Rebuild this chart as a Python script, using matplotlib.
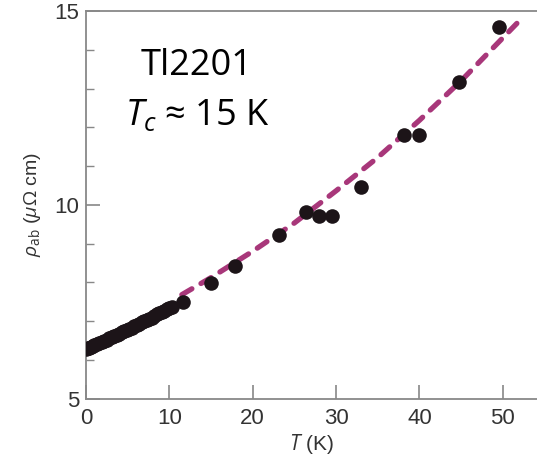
import matplotlib.pyplot as plt
from matplotlib.ticker import MultipleLocator

# Resistivity data, Tl2201 (T in K, rho_ab in micro-ohm cm)
t_low = [0.0, 0.2, 0.4, 0.6, 0.8, 1.0, 1.3, 1.6, 1.9, 2.2, 2.5, 2.8, 3.1, 3.4,
         3.7, 4.0, 4.3, 4.6, 4.9, 5.2, 5.5, 5.8, 6.1, 6.4, 6.7, 7.0, 7.3, 7.6,
         7.9, 8.2, 8.5, 8.8, 9.1, 9.4, 9.7, 10.0, 10.3]
rho_low = [6.28, 6.30, 6.31, 6.33, 6.35, 6.37, 6.40, 6.43, 6.46, 6.49, 6.52,
           6.55, 6.58, 6.61, 6.64, 6.67, 6.71, 6.74, 6.77, 6.80, 6.83, 6.87,
           6.90, 6.93, 6.97, 7.00, 7.03, 7.06, 7.09, 7.13, 7.17, 7.20, 7.23,
           7.26, 7.30, 7.33, 7.36]
t_high = [11.6, 15.0, 17.9, 23.2, 26.4, 27.9, 29.5, 33.0, 38.1, 40.0, 44.8, 49.5]
rho_high = [7.48, 7.97, 8.42, 9.22, 9.82, 9.71, 9.72, 10.47, 11.79, 11.79,
            13.17, 14.58]

# fit curve above Tc
t_fit = [11.5, 15.0, 20.0, 25.0, 30.0, 35.0, 40.0, 45.0, 52.0]
rho_fit = [7.68, 8.12, 8.80, 9.53, 10.36, 11.22, 12.18, 13.20, 14.75]

plt.rcParams["font.family"] = ["Liberation Sans Narrow", "Liberation Sans", "DejaVu Sans"]
plt.rcParams["mathtext.fontset"] = "custom"
plt.rcParams["mathtext.rm"] = "Open Sans"
plt.rcParams["mathtext.it"] = "Open Sans:italic"

fig = plt.figure(figsize=(5.37, 4.59), dpi=100)
ax = fig.add_axes([0.1601, 0.1318, 0.8399, 0.8442])

ax.plot(t_fit, rho_fit, color="#a8377a", lw=3.8, dashes=(2.2, 2.0),
        dash_capstyle="round", zorder=2)
ax.plot(t_low + t_high, rho_low + rho_high, "o", color="#1c1418",
        markersize=10.5, markeredgewidth=0, zorder=3)

ax.set_xlim(0, 54.1)
ax.set_ylim(5, 15)
ax.xaxis.set_major_locator(MultipleLocator(10))
ax.yaxis.set_major_locator(MultipleLocator(5))
ax.yaxis.set_minor_locator(MultipleLocator(1))
ax.tick_params(which="both", direction="in", colors="#888888",
               labelcolor="#333333", labelsize=16)
ax.tick_params(which="major", length=10, width=1.2)
ax.tick_params(which="minor", length=6, width=1.0)
ax.tick_params(axis="x", pad=7)
ax.tick_params(axis="y", pad=5)

for side in ["left", "bottom", "top"]:
    ax.spines[side].set_color("#888888")
    ax.spines[side].set_linewidth(1.3)
ax.spines["right"].set_visible(False)

ax.set_xlabel(r"$\mathit{T}$ (K)", fontsize=15, color="#333333", labelpad=2)
ax.set_ylabel(r"$\rho_{\rm ab}$ ($\mu\Omega$ cm)", fontsize=14,
              color="#333333", labelpad=8)

ax.text(0.246, 0.835, "Tl2201", transform=ax.transAxes, fontsize=26,
        family="Open Sans", ha="center", va="baseline")
ax.text(0.248, 0.706, "$T_c$ ≈ 15 K", transform=ax.transAxes, fontsize=26,
        family="Open Sans", ha="center", va="baseline")

fig.savefig("out.png", dpi=100)
